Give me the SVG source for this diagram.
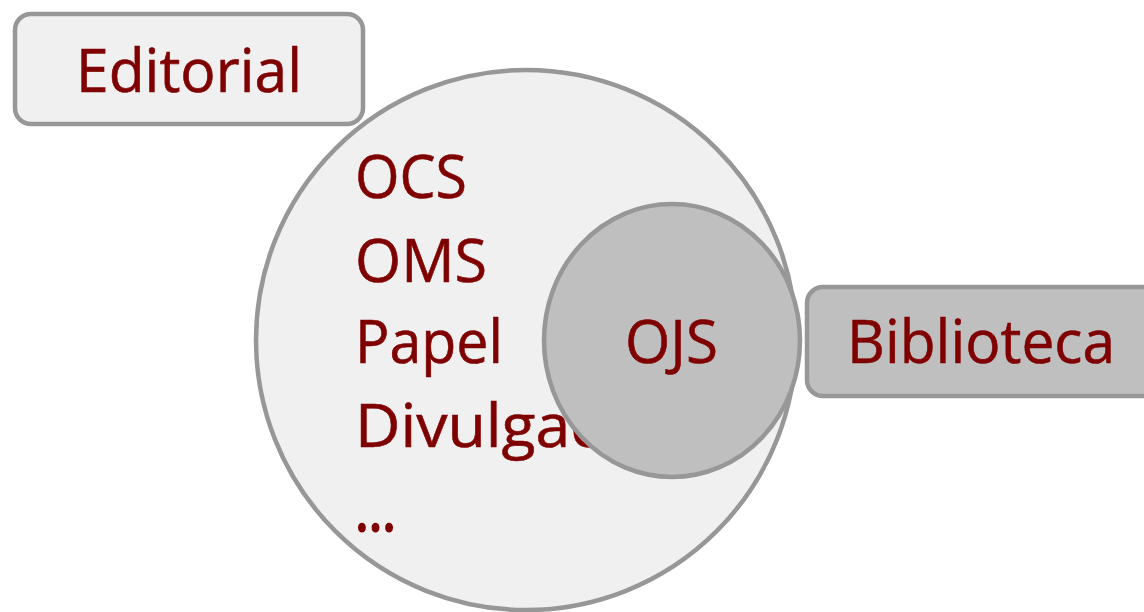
<svg xmlns="http://www.w3.org/2000/svg" width="1144" height="612" viewBox="0 0 1144 612">
  <style>
    .shape { stroke: #979797; stroke-width: 4.5; }
    .light { fill: #f0f0f0; }
    .dark { fill: #bfbfbf; }
    .lbl { font-family: "Open Sans", "Liberation Sans", sans-serif; font-size: 61px; fill: #7f0000; stroke: #7f0000; stroke-width: 0.6; }
  </style>
  <rect width="1144" height="612" fill="#ffffff"/>
  <g id="platform">
    <circle class="shape light" cx="526" cy="340" r="270"/>
    <text class="lbl" x="355" y="198" textLength="112" lengthAdjust="spacingAndGlyphs">OCS</text>
    <text class="lbl" x="355" y="282" textLength="132" lengthAdjust="spacingAndGlyphs">OMS</text>
    <text class="lbl" x="355" y="363" textLength="148" lengthAdjust="spacingAndGlyphs">Papel</text>
    <text class="lbl" x="355" y="447" textLength="337" lengthAdjust="spacingAndGlyphs">Divulgación</text>
    <text class="lbl" x="355" y="531" style="stroke-width:2" textLength="41" lengthAdjust="spacingAndGlyphs">…</text>
  </g>
  <g id="ojs">
    <ellipse class="shape dark" cx="672" cy="340.5" rx="128" ry="136.5"/>
    <text class="lbl" x="625" y="363" textLength="93" lengthAdjust="spacingAndGlyphs">OJS</text>
  </g>
  <g id="editorial">
    <rect class="shape light" x="15" y="14" width="348" height="110" rx="16" ry="16"/>
    <text class="lbl" x="76" y="92" textLength="226" lengthAdjust="spacingAndGlyphs">Editorial</text>
  </g>
  <g id="biblioteca">
    <rect class="shape dark" x="807" y="287" width="360" height="109" rx="16" ry="16"/>
    <text class="lbl" x="847" y="363" textLength="268" lengthAdjust="spacingAndGlyphs">Biblioteca</text>
  </g>
</svg>
